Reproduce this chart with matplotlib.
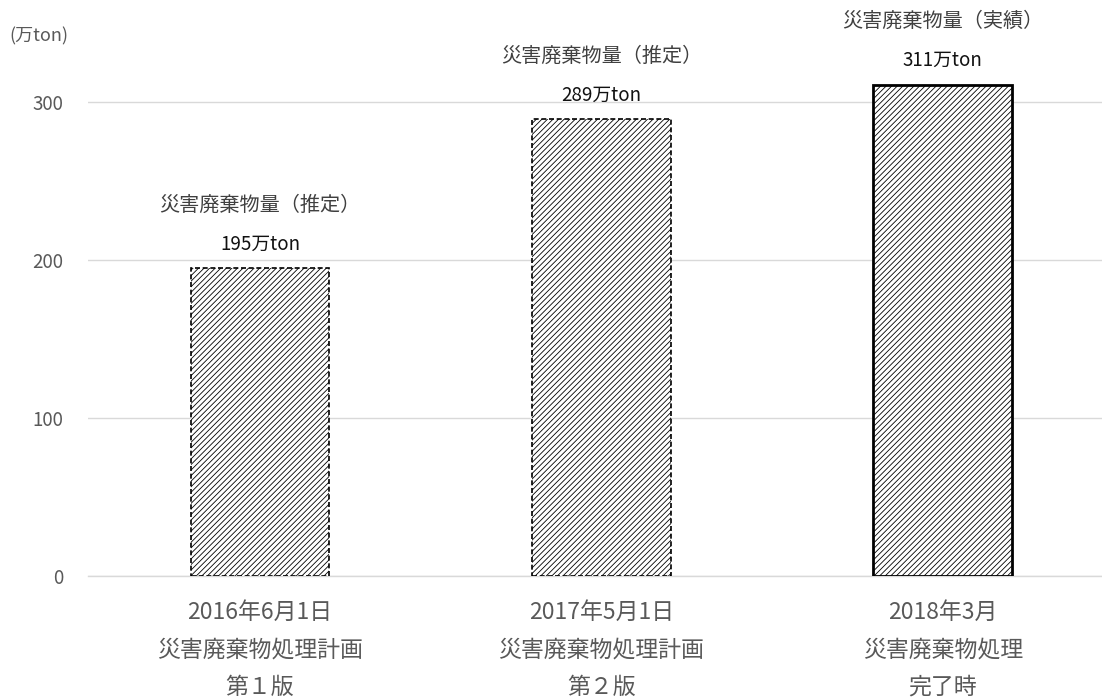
import matplotlib
matplotlib.use("Agg")
import matplotlib.pyplot as plt

plt.rcParams['font.family'] = ['Noto Sans CJK JP', 'DejaVu Sans']
plt.rcParams['hatch.color'] = '#a8a8a8'
plt.rcParams['hatch.linewidth'] = 0.6

categories = ["2016年6月1日\n災害廃棄物処理計画\n第１版",
              "2017年5月1日\n災害廃棄物処理計画\n第２版",
              "2018年3月\n災害廃棄物処理\n完了時"]
values = [195, 289, 311]
label_titles = ["災害廃棄物量（推定）", "災害廃棄物量（推定）", "災害廃棄物量（実績）"]
value_labels = ["195万ton", "289万ton", "311万ton"]
yticks = [0, 100, 200, 300]

W, H = 1102, 700
PX = 72 / 100  # points per pixel
fig = plt.figure(figsize=(W / 100, H / 100), dpi=100)
ax = fig.add_axes([88 / W, (H - 576) / H, (W - 88) / W, 576 / H])

x = list(range(len(categories)))
styles = [(0, (3, 1.6)), (0, (3, 1.6)), '-']
widths = [1.2, 1.2, 2.0]
for xi, v, ls, lw in zip(x, values, styles, widths):
    ax.bar(xi, v, width=0.407, facecolor='white', edgecolor='black',
           linestyle=ls, linewidth=lw, hatch='//////', zorder=3)

for xi, v, t, vl in zip(x, values, label_titles, value_labels):
    ax.annotate(vl, (xi, v), xytext=(0, 24 * PX), textcoords='offset points',
                ha='center', va='center', fontsize=13.5, color='#111111')
    ax.annotate(t, (xi, v), xytext=(0, 63 * PX), textcoords='offset points',
                ha='center', va='center', fontsize=14.5, color='#404040')

ax.set_xlim(-0.5037, 2.466)
ax.set_ylim(0, 364.6)
ax.set_yticks(yticks)
ax.set_yticklabels([str(t) for t in yticks], fontsize=13.5, color='#595959')
ax.set_xticks(x)
ax.set_xticklabels(categories, fontsize=16.5, color='#595959', linespacing=1.8)
ax.tick_params(axis='both', length=0)
ax.tick_params(axis='y', pad=18)
ax.tick_params(axis='x', pad=18)
ax.grid(axis='y', color='#d9d9d9', linewidth=1.0, zorder=0)
for s in ['top', 'right', 'left']:
    ax.spines[s].set_visible(False)
ax.spines['bottom'].set_color('#d9d9d9')
ax.spines['bottom'].set_linewidth(1.0)

fig.text(9 / W, 1 - 36 / H, "(万ton)", fontsize=13, color='#595959',
         ha='left', va='center')

fig.savefig("out.png", dpi=100, facecolor='white')
